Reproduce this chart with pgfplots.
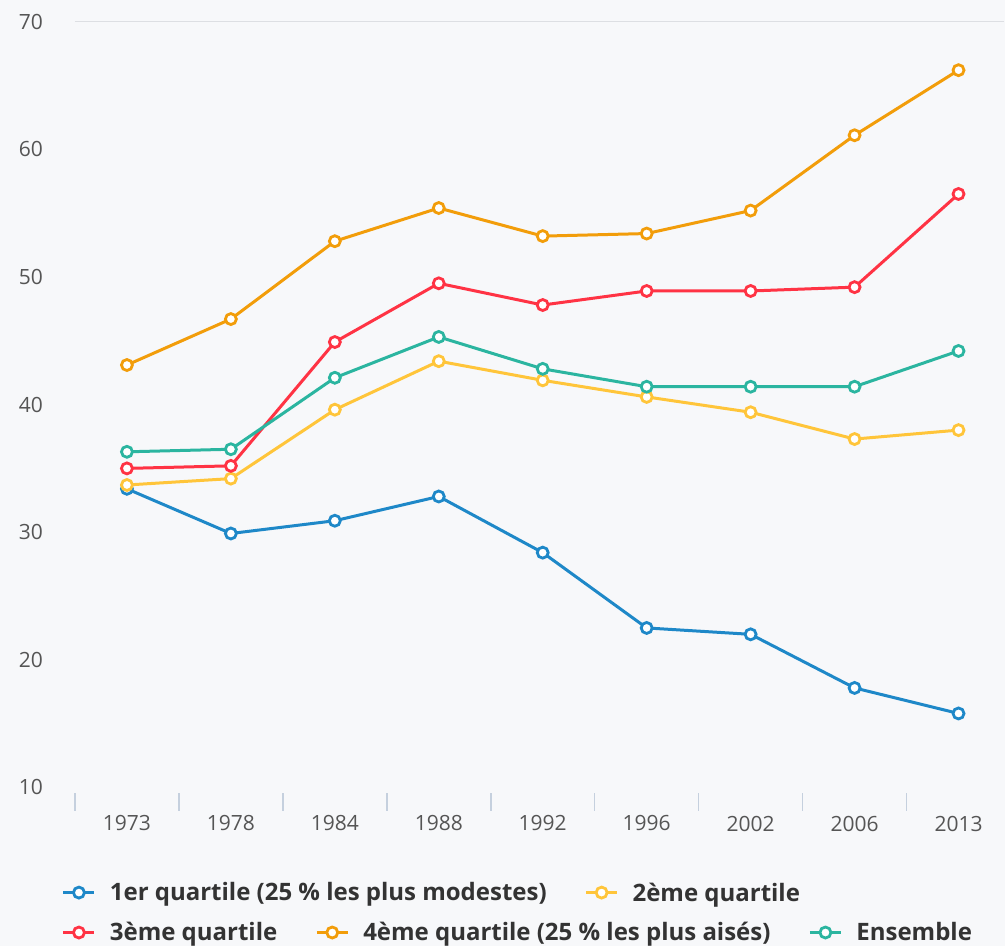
\documentclass[border=0pt]{standalone}
\usepackage{fontspec}
\setmainfont{Open Sans}
\usepackage{pgfplots}
\usepackage{pgfplotstable}
\pgfplotsset{compat=1.18}
\definecolor{bgc}{HTML}{F7F8FA}
\definecolor{gridc}{HTML}{DDDFE3}
\definecolor{tickc}{HTML}{C5D0DE}
\definecolor{labc}{HTML}{555555}
\definecolor{legc}{HTML}{333333}
\definecolor{cblue}{HTML}{1E88C8}
\definecolor{cyellow}{HTML}{FFC53A}
\definecolor{cred}{HTML}{FF3344}
\definecolor{corange}{HTML}{F29D0A}
\definecolor{cteal}{HTML}{2BB5A0}
\pgfplotstableread{
i q1 q2 q3 q4 ens
0 33.4 33.7 35.0 43.1 36.3
1 29.9 34.2 35.2 46.7 36.5
2 30.9 39.6 44.9 52.8 42.1
3 32.8 43.4 49.5 55.4 45.3
4 28.4 41.9 47.8 53.2 42.8
5 22.5 40.6 48.9 53.4 41.4
6 22.0 39.4 48.9 55.2 41.4
7 17.8 37.3 49.2 61.1 41.4
8 15.8 38.0 56.5 66.2 44.2
}\data
\pgfplotsset{
  common/.style={
    at={(75bp,153bp)}, anchor=south west,
    x=104bp, y=12.77bp,
    xmin=-0.5, xmax=8.44, ymin=9.6, ymax=70,
    clip=false,
    legend columns=-1,
    legend image code/.code={\draw[##1, mark repeat=2, mark phase=2] plot coordinates {(0bp,0bp)(15.5bp,0bp)(31bp,0bp)};},
    legend style={draw=none, fill=none, inner sep=0pt, outer sep=0pt, anchor=west,
      font=\fontsize{24bp}{28bp}\selectfont\bfseries, text=legc,
      nodes={inner sep=0pt},
      /tikz/every odd column/.append style={column sep=14bp},
      /tikz/every even column/.append style={column sep=38bp}},
  },
  ser/.style={line width=3bp, mark=*, mark size=5.5bp, mark options={fill=white, line width=2.8bp}},
}
\begin{document}
\begin{tikzpicture}
\fill[bgc] (0,0) rectangle (1005bp,946bp);
\begin{axis}[common,
  axis line style={draw=none},
  tick pos=left,
  xtick={0,...,8},
  xticklabels={1973,1978,1984,1988,1992,1996,2002,2006,2013},
  major tick length=0pt,
  extra x ticks={-0.5,0.5,1.5,2.5,3.5,4.5,5.5,6.5,7.5},
  extra x tick labels={},
  extra x tick style={major tick length=18bp, tick align=outside, tick style={draw=tickc, line width=1.5bp}},
  ytick={10,20,30,40,50,60},
  extra y ticks={70},
  extra y tick style={grid=major, grid style={draw=gridc, line width=1.5bp}},
  /pgf/number format/assume math mode=true,
  ticklabel style={font=\fontsize{21bp}{24bp}\selectfont, text=labc},
  yticklabel style={anchor=east, inner sep=0pt, xshift=-32bp},
  xticklabel style={anchor=north, inner sep=0pt, yshift=-23bp},
  /pgf/number format/1000 sep={},
  legend style={at={(axis description cs:-0.014,-0.1297)}},
]
\addplot[ser, cblue] table[x=i, y=q1] {\data};
\addlegendentry{1er quartile (25 \% les plus modestes)}
\addplot[ser, cyellow] table[x=i, y=q2] {\data};
\addlegendentry{2ème quartile}
\addplot[ser, cred, forget plot] table[x=i, y=q3] {\data};
\addplot[ser, corange, forget plot] table[x=i, y=q4] {\data};
\addplot[ser, cteal, forget plot] table[x=i, y=ens] {\data};
\end{axis}
\begin{axis}[common, hide axis,
  legend style={at={(axis description cs:-0.014,-0.1815)}},
]
\addlegendimage{ser, cred}
\addlegendentry{3ème quartile}
\addlegendimage{ser, corange}
\addlegendentry{4ème quartile (25 \% les plus aisés)}
\addlegendimage{ser, cteal}
\addlegendentry{Ensemble}
\end{axis}
\end{tikzpicture}
\end{document}
